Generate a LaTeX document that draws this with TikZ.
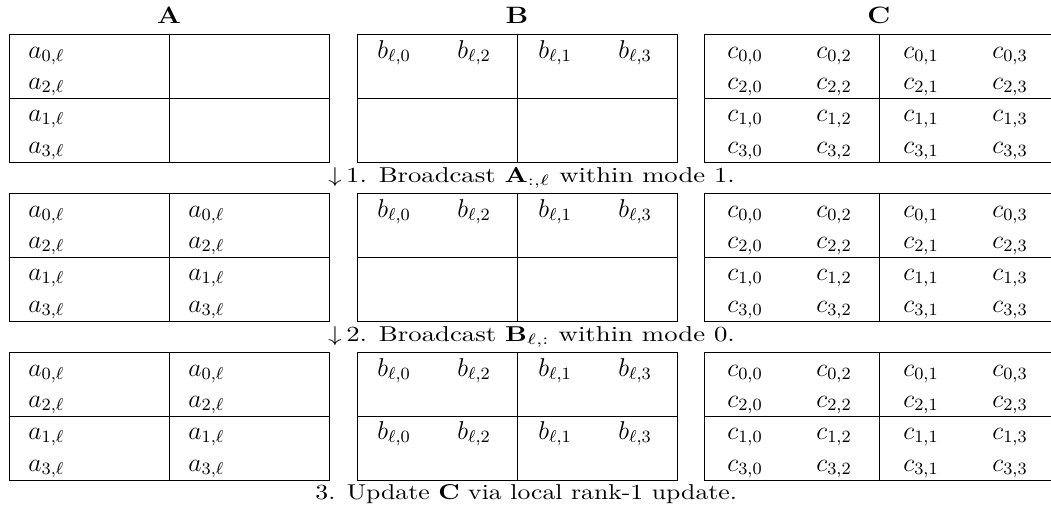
\documentclass[tikz,border=0pt]{standalone}
\usepackage{graphicx}
% widen a piece of text to a given width, keeping its height
\newcommand{\fitto}[2]{\resizebox{#1}{\height}{#2}}
\newcommand{\wide}[1]{\scalebox{1.2}[1]{#1}}
\begin{document}
\begin{tikzpicture}[x=0.465pt,y=-0.465pt,
  grid/.style={line width=0.45pt},
  cell/.style={anchor=base west,inner sep=0pt,font=\fontsize{12}{14}\selectfont},
  head/.style={anchor=base,inner sep=0pt,font=\fontsize{11}{13}\selectfont\bfseries},
  note/.style={anchor=base west,inner sep=0pt}]
\useasboundingbox (0,0) rectangle (1051,514);

% column headers
\node[head] (hA) at (169,23) {\wide{A}};
\node[head] (hB) at (517,23) {\wide{B}};
\node[head] (hC) at (879,23) {\wide{C}};

% the three stages, each a row of three 2x2 process grids
\foreach \blk/\t in {1/34,2/193,3/352} {
  % grid lines of A
  \draw[grid] (9,\t) rectangle (329,\t+128);
  \draw[grid] (169,\t) -- (169,\t+128);
  \draw[grid] (9,\t+64) -- (329,\t+64);
  % grid lines of B
  \draw[grid] (357,\t) rectangle (677,\t+128);
  \draw[grid] (517,\t) -- (517,\t+128);
  \draw[grid] (357,\t+64) -- (677,\t+64);
  % grid lines of C (open on the right)
  \draw[grid] (1051,\t) -- (704,\t) -- (704,\t+128) -- (1051,\t+128);
  \draw[grid] (879,\t) -- (879,\t+128);
  \draw[grid] (704,\t+64) -- (1051,\t+64);

  % entries of A
  \foreach \i/\r/\dy in {0/0/24,1/2/55,2/1/87,3/3/119} {
    \node[cell] (a\blk-\i-0) at (28,\t+\dy) {$a_{\r,\ell}$};
    \ifnum\blk>1
      \node[cell] (a\blk-\i-1) at (188,\t+\dy) {$a_{\r,\ell}$};
    \fi
  }
  % entries of B
  \foreach \j/\k/\x in {0/0/377,1/2/457,2/1/538,3/3/618} {
    \node[cell] (b\blk-0-\j) at (\x,\t+24) {$b_{\ell,\k}$};
    \ifnum\blk>2
      \node[cell] (b\blk-1-\j) at (\x,\t+87) {$b_{\ell,\k}$};
    \fi
  }
  % entries of C
  \foreach \i/\r/\dy in {0/0/24,1/2/55,2/1/87,3/3/119} {
    \foreach \j/\k/\x in {0/0/727,1/2/816,2/1/903,3/3/992} {
      \node[cell] (c\blk-\i-\j) at (\x,\t+\dy) {$c_{\r,\k}$};
    }
  }
}

% step descriptions
\node[note] (s1) at (328,182) {\fitto{189pt}{$\downarrow$\,1. Broadcast $\mathbf{A}_{:,\ell}$ within mode 1.}};
\node[note] (s2) at (328,341) {\fitto{189pt}{$\downarrow$\,2. Broadcast $\mathbf{B}_{\ell,:}$ within mode 0.}};
\node[note] (s3) at (315,499) {\fitto{196pt}{3. Update $\mathbf{C}$ via local rank-1 update.}};
\end{tikzpicture}
\end{document}
